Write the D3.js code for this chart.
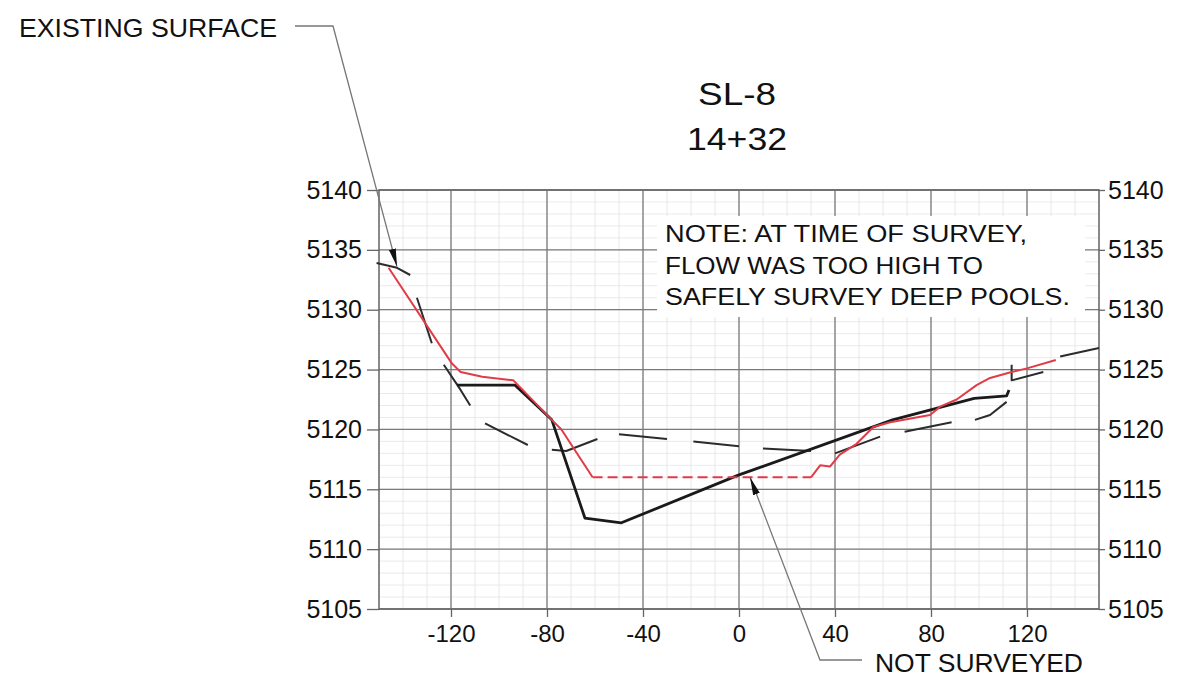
<!DOCTYPE html>
<html>
<head>
<meta charset="utf-8">
<script src="https://cdn.jsdelivr.net/npm/d3@7"></script>
<style>
  body { margin: 0; background: #fff; }
  text { font-family: "Liberation Sans", Arial, sans-serif; fill: #111; }
</style>
</head>
<body>
<div class="chart-area"></div>
<script>
var xTicks = [-120, -80, -40, 0, 40, 80, 120],
    xTickLabels = ["-120", "-80", "-40", "0", "40", "80", "120"],
    yTicks = [5105, 5110, 5115, 5120, 5125, 5130, 5135, 5140];

// surveyed section (red), split where the pool could not be surveyed
var surveyedLeft = [[-146, 5133.5], [-119.6, 5125.5], [-116, 5124.8], [-107, 5124.4],
                    [-94, 5124.1], [-78, 5120.8], [-74, 5120], [-61, 5116]],
    notSurveyed = [[-61, 5116], [30, 5116]],
    surveyedRight = [[30, 5116], [33.8, 5117], [37.9, 5116.9], [42, 5117.9], [49, 5118.8],
                     [56, 5120.2], [63, 5120.6], [79.6, 5121.2], [83.8, 5121.9], [90.7, 5122.5],
                     [99, 5123.7], [104.6, 5124.3], [113.6, 5124.8], [120, 5125.1], [132, 5125.8]];

// heavy black section
var designSection = [[-117.5, 5123.7], [-93.3, 5123.7], [-78, 5120.8], [-64.2, 5112.6],
                     [-49, 5112.2], [0, 5116.2], [64, 5120.8], [98, 5122.6],
                     [111.5, 5122.8], [112.5, 5123.3]];

// existing surface, drawn as the separate long dashes of the drawing
var existingDashes = [
  [[-151, 5133.9], [-142.5, 5133.5], [-137, 5132.9]],
  [[-134.2, 5131], [-128, 5127.2]],
  [[-123, 5125.4], [-116, 5123.3], [-112, 5122]],
  [[-105.8, 5120.5], [-88, 5118.7]],
  [[-78, 5118.3], [-72, 5118.2], [-59, 5119.2]],
  [[-50, 5119.6], [-30, 5119.2]],
  [[-19, 5119], [0, 5118.6]],
  [[10, 5118.4], [30, 5118.2]],
  [[40, 5118], [58.8, 5119.4]],
  [[69, 5119.8], [88.6, 5120.6]],
  [[98.3, 5120.8], [104.6, 5121.2], [111.5, 5122.3]],
  [[113.6, 5125.4], [113.6, 5124.1], [126.8, 5124.8]],
  [[133.8, 5126.1], [150, 5126.8]]
];

var noteLines = ["NOTE: AT TIME OF SURVEY,", "FLOW WAS TOO HIGH TO", "SAFELY SURVEY DEEP POOLS."],
    noteWidths = [362, 318, 405];

var chartWidth = 1192,
    chartHeight = 688,
    plotLeft = 379,
    plotRight = 1099,
    plotTop = 190,
    plotBottom = 609,
    fontFamily = '"Liberation Sans", Arial, sans-serif';

var x = d3.scaleLinear().domain([-150, 150]).range([plotLeft, plotRight]),
    y = d3.scaleLinear().domain([5105, 5140]).range([plotBottom, plotTop]),
    line = d3.line().x(function(d) { return x(d[0]) }).y(function(d) { return y(d[1]) });

var svg = d3.select(".chart-area")
            .append("svg")
            .attr("width", chartWidth)
            .attr("height", chartHeight)
            .style("background", "#fff");

var defs = svg.append("defs");
defs.append("marker")
    .attr("id", "arrow")
    .attr("viewBox", "0 0 18 7")
    .attr("refX", 18)
    .attr("refY", 3.5)
    .attr("markerWidth", 18)
    .attr("markerHeight", 7)
    .attr("markerUnits", "userSpaceOnUse")
    .attr("orient", "auto")
    .append("path")
    .attr("d", "M0,0 L18,3.5 L0,7 Z")
    .attr("fill", "#111");

// minor grid
svg.append("g").selectAll("line")
   .data(d3.range(-150, 151, 10))
   .enter()
   .append("line")
   .attr("x1", function(d) { return x(d) })
   .attr("x2", function(d) { return x(d) })
   .attr("y1", plotTop)
   .attr("y2", plotBottom)
   .attr("stroke", "#e2e2e2")
   .attr("stroke-width", 0.8);

svg.append("g").selectAll("line")
   .data(d3.range(5105, 5141, 1))
   .enter()
   .append("line")
   .attr("x1", plotLeft)
   .attr("x2", plotRight)
   .attr("y1", function(d) { return y(d) })
   .attr("y2", function(d) { return y(d) })
   .attr("stroke", "#e4e4e4")
   .attr("stroke-width", 0.8);

// major grid
svg.append("g").selectAll("line")
   .data(xTicks)
   .enter()
   .append("line")
   .attr("x1", function(d) { return x(d) })
   .attr("x2", function(d) { return x(d) })
   .attr("y1", plotTop)
   .attr("y2", plotBottom)
   .attr("stroke", "#7a7a7a")
   .attr("stroke-width", 1.3);

svg.append("g").selectAll("line")
   .data(yTicks)
   .enter()
   .append("line")
   .attr("x1", plotLeft)
   .attr("x2", plotRight)
   .attr("y1", function(d) { return y(d) })
   .attr("y2", function(d) { return y(d) })
   .attr("stroke", "#7a7a7a")
   .attr("stroke-width", 1.3);

svg.append("rect")
   .attr("x", plotLeft)
   .attr("y", plotTop)
   .attr("width", plotRight - plotLeft)
   .attr("height", plotBottom - plotTop)
   .attr("fill", "none")
   .attr("stroke", "#666")
   .attr("stroke-width", 1.5);

// axes
function styleAxis(g) {
  g.select(".domain").remove();
  g.selectAll(".tick line").attr("stroke", "#666").attr("stroke-width", 1.3);
  g.selectAll("text").attr("fill", "#111");
  g.attr("font-size", 25).attr("font-family", fontFamily);
}

svg.append("g")
   .attr("transform", "translate(" + plotLeft + ",0)")
   .call(d3.axisLeft(y).tickValues(yTicks).tickFormat(d3.format("d")).tickSize(12).tickPadding(5))
   .call(styleAxis);

svg.append("g")
   .attr("transform", "translate(" + plotRight + ",0)")
   .call(d3.axisRight(y).tickValues(yTicks).tickFormat(d3.format("d")).tickSize(6).tickPadding(3))
   .call(styleAxis);

svg.append("g")
   .attr("transform", "translate(0," + plotBottom + ")")
   .call(d3.axisBottom(x).tickValues(xTicks)
           .tickFormat(function(d, i) { return xTickLabels[i] })
           .tickSize(8).tickPadding(8))
   .call(styleAxis)
   .attr("font-size", 24);

// note box
svg.append("rect")
   .attr("x", 657)
   .attr("y", 216)
   .attr("width", 428)
   .attr("height", 101)
   .attr("fill", "#fff");

svg.selectAll(".note")
   .data(noteLines)
   .enter()
   .append("text")
   .attr("class", "note")
   .attr("x", 665)
   .attr("y", function(d, i) { return 242 + i * 31.5 })
   .attr("font-size", 24)
   .attr("textLength", function(d, i) { return noteWidths[i] })
   .attr("lengthAdjust", "spacingAndGlyphs")
   .text(function(d) { return d });

// existing surface dashes
svg.append("g").selectAll("path")
   .data(existingDashes)
   .enter()
   .append("path")
   .attr("d", line)
   .attr("fill", "none")
   .attr("stroke", "#2b2b2b")
   .attr("stroke-width", 2)
   .attr("stroke-linejoin", "round");

// heavy black section
svg.append("path")
   .datum(designSection)
   .attr("d", line)
   .attr("fill", "none")
   .attr("stroke", "#1a1a1a")
   .attr("stroke-width", 2.8)
   .attr("stroke-linejoin", "round");

// red surveyed section
svg.selectAll(".surveyed")
   .data([surveyedLeft, surveyedRight])
   .enter()
   .append("path")
   .attr("class", "surveyed")
   .attr("d", line)
   .attr("fill", "none")
   .attr("stroke", "#df3c48")
   .attr("stroke-width", 2)
   .attr("stroke-linejoin", "round");

svg.append("path")
   .datum(notSurveyed)
   .attr("d", line)
   .attr("fill", "none")
   .attr("stroke", "#df3c48")
   .attr("stroke-width", 2)
   .attr("stroke-dasharray", "10,5");

// titles
svg.append("text")
   .attr("x", 737)
   .attr("y", 105)
   .attr("text-anchor", "middle")
   .attr("font-size", 31)
   .attr("textLength", 78)
   .attr("lengthAdjust", "spacingAndGlyphs")
   .text("SL-8");

svg.append("text")
   .attr("x", 737)
   .attr("y", 150)
   .attr("text-anchor", "middle")
   .attr("font-size", 31)
   .attr("textLength", 100)
   .attr("lengthAdjust", "spacingAndGlyphs")
   .text("14+32");

// leaders
var existingTip = [x(-142.5), y(5133.6)],
    notSurveyedTip = [x(4.6), y(5116)];

svg.append("path")
   .attr("d", d3.line()([[295, 26], [333, 26], existingTip]))
   .attr("fill", "none")
   .attr("stroke", "#777")
   .attr("stroke-width", 1.3)
   .attr("marker-end", "url(#arrow)");

svg.append("path")
   .attr("d", d3.line()([[862, 660], [820, 660], notSurveyedTip]))
   .attr("fill", "none")
   .attr("stroke", "#777")
   .attr("stroke-width", 1.3)
   .attr("marker-end", "url(#arrow)");

svg.append("text")
   .attr("x", 19)
   .attr("y", 37)
   .attr("font-size", 26)
   .attr("textLength", 258)
   .attr("lengthAdjust", "spacingAndGlyphs")
   .text("EXISTING SURFACE");

svg.append("text")
   .attr("x", 875)
   .attr("y", 672)
   .attr("font-size", 26)
   .attr("textLength", 208)
   .attr("lengthAdjust", "spacingAndGlyphs")
   .text("NOT SURVEYED");
</script>
</body>
</html>
